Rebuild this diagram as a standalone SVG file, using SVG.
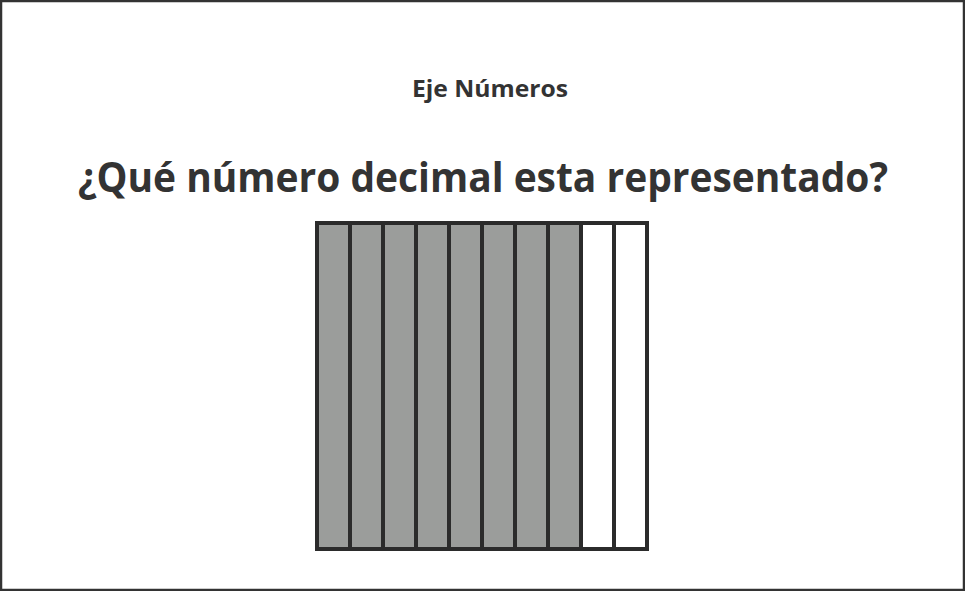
<svg xmlns="http://www.w3.org/2000/svg" width="965" height="591" viewBox="0 0 965 591">
<style>
.t{font-family:"Open Sans","Noto Sans","Liberation Sans",sans-serif;font-weight:bold;fill:#333333;text-anchor:middle}
.c{stroke:#2b2b2b;stroke-width:4}
.g{fill:#9b9d9b}
.w{fill:#ffffff}
</style>
<rect x="1" y="1" width="963" height="589" fill="#ffffff" stroke="#333333" stroke-width="2.5"/>
<g id="title"><text class="t" x="490" y="97" font-size="24" textLength="156" lengthAdjust="spacingAndGlyphs">Eje Números</text></g>
<g id="question"><text class="t" x="483" y="192" font-size="42" textLength="810" lengthAdjust="spacingAndGlyphs">¿Qué número decimal esta representado?</text></g>
<g id="grid">
<rect class="c g" x="317" y="223" width="33" height="326"/>
<rect class="c g" x="350" y="223" width="33" height="326"/>
<rect class="c g" x="383" y="223" width="33" height="326"/>
<rect class="c g" x="416" y="223" width="33" height="326"/>
<rect class="c g" x="449" y="223" width="33" height="326"/>
<rect class="c g" x="482" y="223" width="33" height="326"/>
<rect class="c g" x="515" y="223" width="33" height="326"/>
<rect class="c g" x="548" y="223" width="33" height="326"/>
<rect class="c w" x="581" y="223" width="33" height="326"/>
<rect class="c w" x="614" y="223" width="33" height="326"/>
</g>
<g id="connectors"/>
</svg>
